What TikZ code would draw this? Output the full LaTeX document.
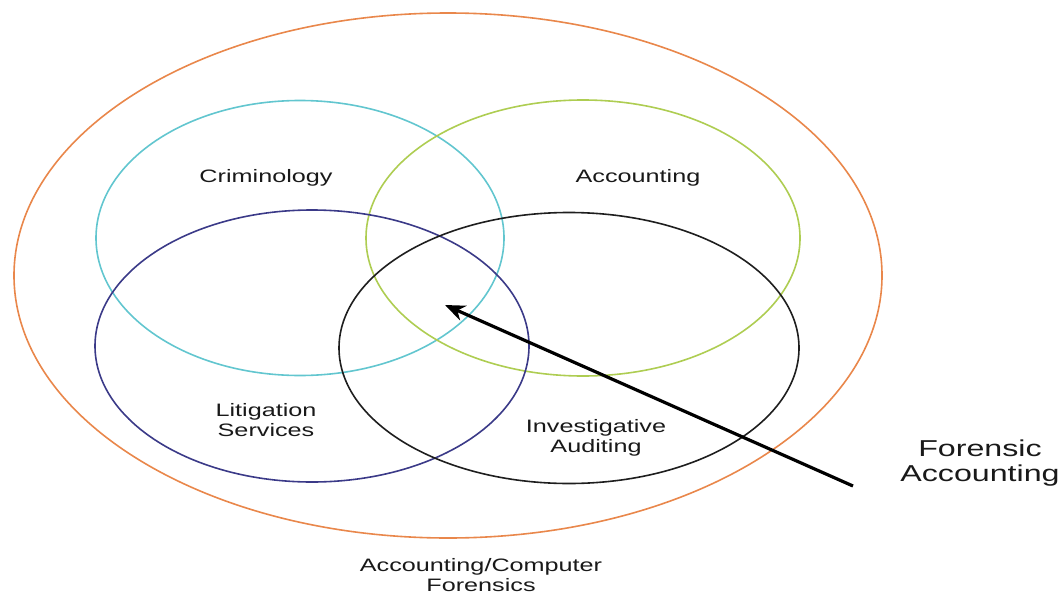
\documentclass[tikz,border=0pt]{standalone}
\usepackage{fontspec}
\setmainfont{Liberation Sans}
\newfontfamily\widesans[FakeStretch=1.4]{Liberation Sans}
\usetikzlibrary{shapes.geometric,arrows.meta}
\definecolor{ringorange}{HTML}{E9874B}
\definecolor{ringcyan}{HTML}{62C6CF}
\definecolor{ringgreen}{HTML}{AECD52}
\definecolor{ringpurple}{HTML}{3B3A88}
\definecolor{ringblack}{HTML}{1E1E1E}
\tikzset{
  ring/.style={ellipse, draw=#1, line width=1.6pt, inner sep=0pt, outer sep=0pt},
  lbl/.style={font=\widesans\fontsize{18}{20.5}\selectfont, align=center, text=black!90, inner sep=0pt},
  biglbl/.style={font=\widesans\fontsize{23}{24.5}\selectfont, align=center, text=black!90, inner sep=0pt},
  pointer/.style={line width=3.2pt, -{Stealth[length=20pt,width=16pt]}}
}
\begin{document}
\begin{tikzpicture}[x=1pt,y=-1pt]
\useasboundingbox (0,0) rectangle (1064,594);
\node[ring=ringorange, minimum width=868pt, minimum height=525pt] (outer) at (448,275.5) {};
\node[ring=ringcyan, minimum width=408pt, minimum height=275pt] (crim) at (300,238) {};
\node[ring=ringgreen, minimum width=434pt, minimum height=276pt] (acc) at (583,238) {};
\node[ring=ringpurple, minimum width=434pt, minimum height=272pt] (lit) at (312,346) {};
\node[ring=ringblack, minimum width=460pt, minimum height=271pt] (inv) at (569,348) {};

\node[lbl] (tcrim) at (266,178) {Criminology};
\node[lbl] (tacc) at (638,178) {Accounting};
\node[lbl] (tlit) at (266,420) {Litigation\\Services};
\node[lbl] (tinv) at (596,438) {Investigative\\Auditing};
\node[lbl] (tout) at (481,575) {Accounting/Computer\\Forensics};
\node[biglbl] (tfor) at (980,463) {Forensic\\Accounting};

\coordinate (tail) at (853,486);
\coordinate (head) at (445,305);
\draw[pointer] (tail) -- (head);
\end{tikzpicture}
\end{document}
